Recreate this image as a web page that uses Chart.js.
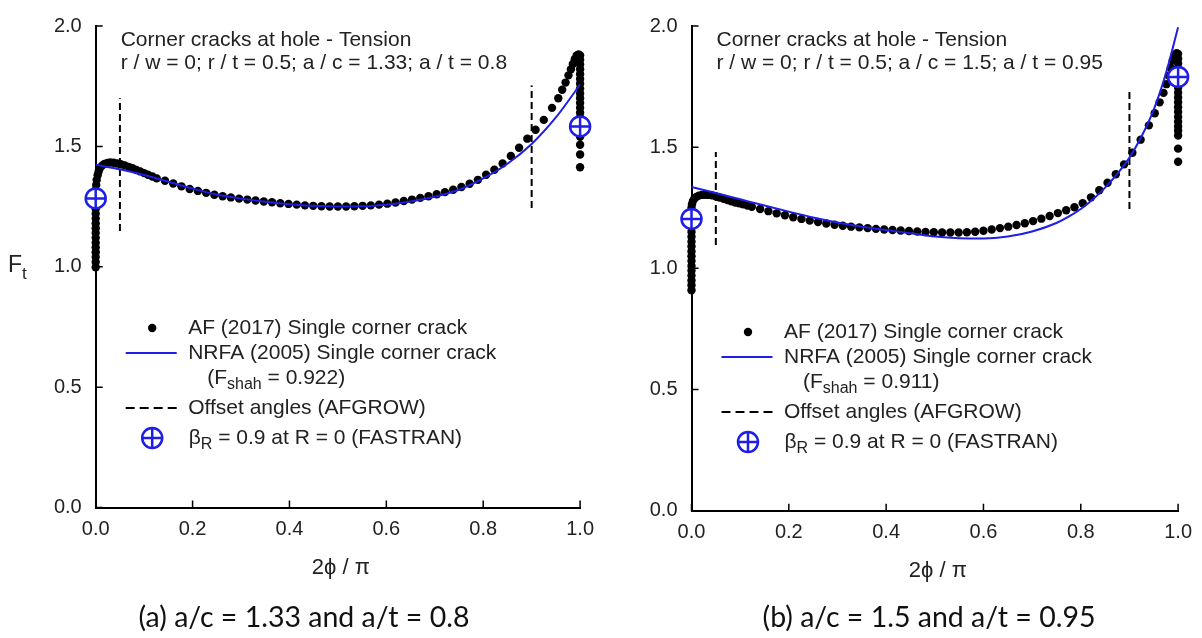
<!DOCTYPE html>
<html>
<head>
<meta charset="utf-8">
<script src="https://cdn.jsdelivr.net/npm/chart.js@4.4.0/dist/chart.umd.min.js"></script>
<style>
  body { margin:0; background:#fff; width:1202px; height:638px; position:relative; overflow:hidden; }
  canvas { position:absolute; top:0; }
  #chartA { left:0; }
  #chartB { left:600px; }
  .cap { position:absolute; top:599px; font-family: Lato, "Open Sans", sans-serif; font-size:28.5px; color:#111; text-align:center; white-space:nowrap; }
</style>
</head>
<body>
<canvas id="chartA" width="604" height="600"></canvas>
<canvas id="chartB" width="602" height="600"></canvas>
<div class="cap" style="left:0;width:608px;">(a) a/c = 1.33 and a/t = 0.8</div>
<div class="cap" style="left:656px;width:546px;">(b) a/c = 1.5 and a/t = 0.95</div>
<script>
// tick values
const xTickVals = [0, 0.2, 0.4, 0.6, 0.8, 1.0];
const yTickVals = [0, 0.5, 1.0, 1.5, 2.0];

// (a) a/c = 1.33, a/t = 0.8
const afX_a = [
  0,0,0,0,0,0,0,0,0,0,0,0,0,0,0,0,0,
  0.001,0.002,0.004,0.006,0.009,0.013,0.018,0.024,0.030,0.037,0.044,
  0.052,0.060,0.068,0.076,0.084,0.092,0.100,0.108,0.117,0.126,
  0.143,0.160,0.177,0.194,0.211,0.228,0.245,0.262,0.279,0.296,
  0.313,0.330,0.347,0.364,0.381,0.398,0.415,0.432,0.449,0.466,
  0.483,0.500,0.517,0.534,0.551,0.568,0.585,0.602,0.619,0.636,
  0.653,0.670,0.687,0.704,0.721,0.738,0.755,0.772,0.789,0.806,
  0.823,0.840,0.857,0.874,0.891,0.908,0.925,0.942,0.955,0.963,
  0.970,0.976,0.981,0.985,0.989,0.993,0.997,
  1,1,1,1,1,1,1,1,1,1,1,1,1,1,1,1,1,1,1,1,1
];
const afY_a = [
  0.998,1.02,1.04,1.06,1.08,1.10,1.12,1.14,1.16,1.18,1.20,1.22,1.24,1.26,1.28,1.30,1.32,
  1.34,1.36,1.38,1.395,1.41,1.42,1.427,1.431,1.433,1.432,1.429,
  1.426,1.421,1.415,1.409,1.402,1.396,1.389,1.382,1.375,1.367,
  1.357,1.346,1.334,1.323,1.315,1.307,1.299,1.293,1.288,1.283,
  1.279,1.275,1.271,1.268,1.264,1.261,1.258,1.255,1.253,1.251,
  1.250,1.250,1.250,1.251,1.253,1.255,1.258,1.262,1.267,1.273,
  1.279,1.286,1.293,1.301,1.310,1.320,1.331,1.345,1.361,1.382,
  1.403,1.429,1.460,1.494,1.532,1.569,1.610,1.660,1.700,1.735,
  1.765,1.795,1.820,1.842,1.862,1.878,1.882,
  1.878,1.86,1.84,1.82,1.80,1.78,1.76,1.74,1.72,1.70,1.68,1.66,1.64,1.62,1.60,1.58,1.56,1.54,1.507,1.466,1.413
];
const nrfaX_a = [0,0.05,0.1,0.15,0.2,0.25,0.3,0.35,0.4,0.45,0.5,0.55,0.6,0.65,0.7,0.75,0.8,0.85,0.9,0.95,1.0];
const nrfaY_a = [1.424,1.405,1.381,1.353,1.325,1.300,1.283,1.270,1.260,1.253,1.250,1.251,1.258,1.271,1.291,1.320,1.367,1.428,1.510,1.620,1.757];
const fastranX_a = [0, 1.0];
const fastranY_a = [1.284, 1.583];
const offsetX_a = [0.05, 0.9];
const offsetLo_a = [1.149, 1.244];
const offsetHi_a = [1.70, 1.753];

// (b) a/c = 1.5, a/t = 0.95
const afX_b = [
  0,0,0,0,0,0,0,0,0,0,0,0,0,0,0,0,0,0,
  0.001,0.003,0.006,0.010,0.015,0.021,0.028,0.035,0.042,
  0.050,0.058,0.066,0.074,0.082,0.090,0.098,0.106,0.115,0.124,
  0.141,0.158,0.175,0.192,0.209,0.226,0.243,0.260,0.277,0.294,
  0.311,0.328,0.345,0.362,0.379,0.396,0.413,0.430,0.447,0.464,
  0.481,0.498,0.515,0.532,0.549,0.566,0.583,0.600,0.617,0.634,
  0.651,0.668,0.685,0.702,0.719,0.736,0.753,0.770,0.787,0.804,
  0.821,0.838,0.855,0.872,0.889,0.906,0.923,0.940,0.952,0.962,
  0.970,0.976,0.981,0.985,0.989,0.993,0.997,
  1,1,1,1,1,1,1,1,1,1,1,1,1,1,1,1,1,1,1,1
];
const afY_b = [
  0.91,0.93,0.95,0.97,0.99,1.01,1.03,1.05,1.07,1.09,1.11,1.13,1.15,1.17,1.19,1.21,1.23,1.25,
  1.265,1.278,1.288,1.295,1.300,1.303,1.304,1.303,1.301,
  1.297,1.292,1.287,1.282,1.277,1.272,1.268,1.264,1.259,1.254,
  1.245,1.236,1.227,1.219,1.211,1.204,1.197,1.191,1.185,1.180,
  1.176,1.172,1.169,1.166,1.163,1.160,1.158,1.156,1.154,1.152,
  1.150,1.149,1.148,1.148,1.148,1.149,1.151,1.155,1.160,1.166,
  1.172,1.179,1.186,1.195,1.205,1.216,1.228,1.240,1.252,1.269,
  1.293,1.322,1.353,1.388,1.429,1.477,1.531,1.590,1.640,1.685,
  1.724,1.760,1.795,1.828,1.858,1.880,1.888,
  1.885,1.865,1.845,1.825,1.805,1.785,1.765,1.745,1.725,1.705,1.685,1.665,1.645,1.625,1.605,1.585,1.568,1.548,1.494,1.44
];
const nrfaX_b = [0,0.05,0.1,0.15,0.2,0.25,0.3,0.35,0.4,0.45,0.5,0.55,0.6,0.65,0.7,0.75,0.775,0.8,0.825,0.85,0.875,0.9,0.925,0.95,0.975,1.0];
const nrfaY_b = [1.336,1.311,1.285,1.259,1.234,1.210,1.189,1.172,1.158,1.145,1.131,1.124,1.123,1.131,1.152,1.187,1.213,1.245,1.285,1.333,1.390,1.457,1.545,1.655,1.805,1.995];
const fastranX_b = [0, 1.0];
const fastranY_b = [1.204, 1.79];
const offsetX_b = [0.05, 0.9];
const offsetLo_b = [1.096, 1.245];
const offsetHi_b = [1.48, 1.744];

const FONT = '"Liberation Sans", Arial, sans-serif';
const BLUE = '#1e1ee6';
const TEXT = '#222';

function drawPlusCircle(ctx, x, y) {
  ctx.save();
  ctx.beginPath();
  ctx.arc(x, y, 10, 0, Math.PI * 2);
  ctx.fillStyle = '#fff';
  ctx.fill();
  ctx.strokeStyle = BLUE;
  ctx.lineWidth = 2.5;
  ctx.stroke();
  ctx.beginPath();
  ctx.moveTo(x - 10, y); ctx.lineTo(x + 10, y);
  ctx.moveTo(x, y - 10); ctx.lineTo(x, y + 10);
  ctx.stroke();
  ctx.restore();
}

// text with subscripts: parts = [[text, isSub], ...]
function subText(ctx, parts, x, y, size) {
  parts.forEach(([txt, sub]) => {
    ctx.font = (sub ? Math.round(size * 0.75) : size) + 'px ' + FONT;
    ctx.fillText(txt, x, y + (sub ? size * 0.3 : 0));
    x += ctx.measureText(txt).width;
  });
}

const panelDeco = {
  id: 'panelDeco',
  afterDraw(chart, args, o) {
    const {ctx, chartArea: a, scales: {x, y}} = chart;
    ctx.save();
    // inward ticks
    ctx.strokeStyle = '#000';
    ctx.lineWidth = 1.5;
    ctx.beginPath();
    x.ticks.forEach(t => {
      const px = x.getPixelForValue(t.value);
      ctx.moveTo(px, a.bottom); ctx.lineTo(px, a.bottom - 7);
    });
    y.ticks.forEach(t => {
      const py = y.getPixelForValue(t.value);
      ctx.moveTo(a.left, py); ctx.lineTo(a.left + 7, py);
    });
    ctx.stroke();

    ctx.fillStyle = TEXT;
    ctx.textBaseline = 'middle';
    ctx.textAlign = 'left';
    ctx.font = '21px ' + FONT;
    ctx.fillText(o.title1, a.left + 25, a.top + 14);
    ctx.fillText(o.title2, a.left + 25, a.top + 37);

    // x axis title
    ctx.textAlign = 'center';
    ctx.font = '22px ' + FONT;
    ctx.fillText('2\u03D5 / \u03C0', (a.left + a.right) / 2 + 3, a.bottom + 60);
    ctx.textAlign = 'left';

    if (o.yTitle) {
      ctx.textBaseline = 'alphabetic';
      subText(ctx, [['F', false], ['t', true]], 8, a.top + 246, 23);
      ctx.textBaseline = 'middle';
    }

    // legend
    const L = a.left, T = a.top + o.legendTop;
    ctx.beginPath();
    ctx.arc(L + 56.5, T, 4.2, 0, Math.PI * 2);
    ctx.fillStyle = '#000';
    ctx.fill();
    ctx.fillStyle = TEXT;
    ctx.font = '21px ' + FONT;
    ctx.fillText('AF (2017) Single corner crack', L + 92.5, T);

    ctx.strokeStyle = BLUE; ctx.lineWidth = 2;
    ctx.beginPath(); ctx.moveTo(L + 30, T + 25); ctx.lineTo(L + 81, T + 25); ctx.stroke();
    ctx.fillText('NRFA (2005) Single corner crack', L + 92.5, T + 25);
    subText(ctx, [['(F', false], ['shah', true], [' = ' + o.fshah + ')', false]], L + 111.5, T + 50, 21);

    ctx.strokeStyle = '#000';
    ctx.setLineDash([9, 5]);
    ctx.beginPath(); ctx.moveTo(L + 30, T + 80); ctx.lineTo(L + 81, T + 80); ctx.stroke();
    ctx.setLineDash([]);
    ctx.font = '21px ' + FONT;
    ctx.fillText('Offset angles (AFGROW)', L + 92.5, T + 80);

    drawPlusCircle(ctx, L + 56.5, T + 110);
    ctx.fillStyle = TEXT;
    subText(ctx, [['\u03B2', false], ['R', true], [' = 0.9 at R = 0 (FASTRAN)', false]], L + 93, T + 110, 21);
    ctx.restore();
  }
};

function pts(xs, ys) {
  return xs.map((v, i) => ({x: v, y: ys[i]}));
}

function makePanel(id, p) {
  const datasets = [
    { data: pts(p.afX, p.afY), pointRadius: 4.2, pointBackgroundColor: '#000', pointBorderWidth: 0, showLine: false, order: 3, clip: false },
    { data: pts(p.nrfaX, p.nrfaY), showLine: true, borderColor: BLUE, borderWidth: 2, pointRadius: 0, cubicInterpolationMode: 'monotone', order: 1, clip: false }
  ];
  p.offX.forEach((v, i) => {
    datasets.push({ data: [{x: v, y: p.offLo[i]}, {x: v, y: p.offHi[i]}], showLine: true, borderColor: '#000', borderWidth: 2, borderDash: [7, 4], pointRadius: 0, order: 2 });
  });
  datasets.push({ data: pts(p.fX, p.fY), pointStyle: 'circle', pointRadius: 10, pointBackgroundColor: '#fff', pointBorderColor: BLUE, pointBorderWidth: 2.5, showLine: false, order: 0, clip: false });
  datasets.push({ data: pts(p.fX, p.fY), pointStyle: 'cross', pointRadius: 10, pointBorderColor: BLUE, pointBorderWidth: 2.5, showLine: false, order: -1, clip: false });

  new Chart(document.getElementById(id).getContext('2d'), {
    type: 'scatter',
    data: { datasets: datasets },
    options: {
      responsive: false,
      animation: false,
      layout: { padding: { left: 0, right: p.padRight, top: p.padTop, bottom: 0 } },
      plugins: {
        legend: { display: false },
        tooltip: { enabled: false },
        panelDeco: { title1: 'Corner cracks at hole - Tension', title2: p.title2, fshah: p.fshah, legendTop: p.legendTop, yTitle: p.yTitle }
      },
      scales: {
        x: {
          type: 'linear', min: 0, max: 1,
          afterBuildTicks: s => { s.ticks = xTickVals.map(v => ({value: v})); },
          afterFit: s => { s.height = p.xAxisH; },
          grid: { drawOnChartArea: false, drawTicks: false },
          border: { color: '#000', width: 2 },
          ticks: { padding: 10, color: TEXT, font: { family: FONT, size: 20 }, maxRotation: 0, autoSkip: false, callback: v => Number(v).toFixed(1) }
        },
        y: {
          type: 'linear', min: 0, max: 2,
          afterBuildTicks: s => { s.ticks = yTickVals.map(v => ({value: v})); },
          afterFit: s => { s.width = p.yAxisW; },
          grid: { drawOnChartArea: false, drawTicks: false },
          border: { color: '#000', width: 2 },
          ticks: { padding: 14, color: TEXT, font: { family: FONT, size: 20 }, autoSkip: false, callback: v => Number(v).toFixed(1) }
        }
      }
    },
    plugins: [panelDeco]
  });
}

makePanel('chartA', {
  afX: afX_a, afY: afY_a, nrfaX: nrfaX_a, nrfaY: nrfaY_a, fX: fastranX_a, fY: fastranY_a,
  offX: offsetX_a, offLo: offsetLo_a, offHi: offsetHi_a,
  title2: 'r / w = 0; r / t = 0.5; a / c = 1.33; a / t = 0.8', fshah: '0.922',
  padRight: 17.3, padTop: 15.7, yAxisW: 95.7, xAxisH: 92.5, legendTop: 302, yTitle: true
});
makePanel('chartB', {
  afX: afX_b, afY: afY_b, nrfaX: nrfaX_b, nrfaY: nrfaY_b, fX: fastranX_b, fY: fastranY_b,
  offX: offsetX_b, offLo: offsetLo_b, offHi: offsetHi_b,
  title2: 'r / w = 0; r / t = 0.5; a / c = 1.5; a / t = 0.95', fshah: '0.911',
  padRight: 18, padTop: 16.7, yAxisW: 91.5, xAxisH: 89.3, legendTop: 306, yTitle: false
});
</script>
</body>
</html>
